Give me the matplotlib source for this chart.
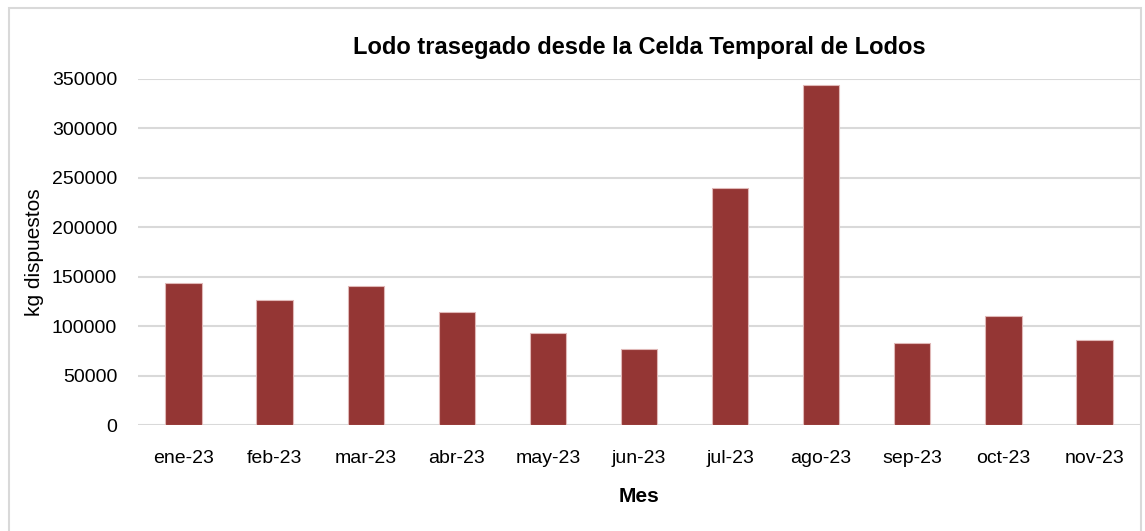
import matplotlib.pyplot as plt
from matplotlib.patches import Rectangle
from matplotlib import font_manager

# Datos
meses = ['ene-23', 'feb-23', 'mar-23', 'abr-23', 'may-23', 'jun-23',
         'jul-23', 'ago-23', 'sep-23', 'oct-23', 'nov-23']
kg_dispuestos = [143400, 126500, 140700, 114100, 93200, 77000,
                 239300, 343700, 82800, 110100, 86500]

names = {f.name for f in font_manager.fontManager.ttflist}
fam = 'Liberation Sans Narrow' if 'Liberation Sans Narrow' in names else 'Liberation Sans'
plt.rcParams['font.family'] = [fam, 'DejaVu Sans']

W, H = 1145, 531
fig = plt.figure(figsize=(W / 100, H / 100), dpi=100)
ax = fig.add_axes([138 / W, 1 - 425.3 / H, (1140 - 138) / W, (425.3 - 78.7) / H])

x = range(len(meses))
ax.bar(x, kg_dispuestos, width=0.4, color='#943634', edgecolor='#e0b8b7', linewidth=0.8, zorder=3)

ax.set_ylim(0, 350000)
ax.set_xlim(-0.5, len(meses) - 0.5)
ax.set_yticks(range(0, 350001, 50000))
ax.set_yticklabels([str(v) for v in range(0, 350001, 50000)])
ax.set_xticks(list(x))
ax.set_xticklabels(meses)
ax.tick_params(axis='both', length=0, labelsize=14)
ax.tick_params(axis='x', pad=18)
ax.tick_params(axis='y', pad=15)
ax.grid(axis='y', color='#d9d9d9', linewidth=1.5, zorder=0)
for s in ax.spines.values():
    s.set_visible(False)

ax.set_title('Lodo trasegado desde la Celda Temporal de Lodos', fontsize=17,
             fontweight='bold', pad=18)
ax.set_xlabel('Mes', fontsize=15, fontweight='bold', labelpad=14)
ax.set_ylabel('kg dispuestos', fontsize=15, labelpad=6)

# borde del área del gráfico
fig.patches.append(Rectangle((9 / W, -0.05), (1141 - 9) / W, 1.05 - 8 / H,
                             transform=fig.transFigure, fill=False,
                             edgecolor='#d9d9d9', linewidth=1.5))

fig.savefig('out.png', dpi=100)
